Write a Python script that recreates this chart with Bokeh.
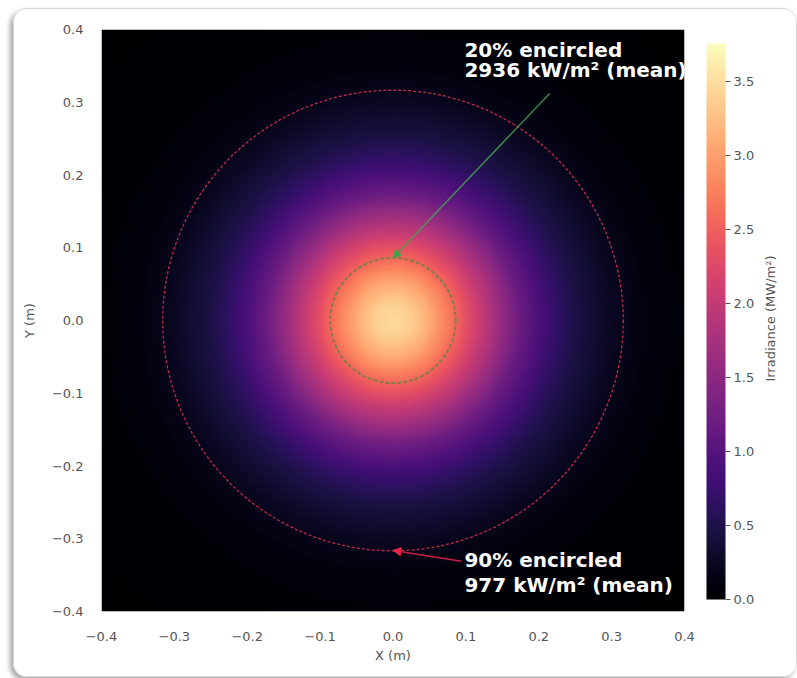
import numpy as np
from bokeh.plotting import figure
from bokeh.models import (LinearColorMapper, ColorBar, FixedTicker, LinearAxis,
                          CustomJSTickFormatter, PrintfTickFormatter, Label,
                          Arrow, NormalHead)
from bokeh.palettes import Magma256
from bokeh.embed import file_html
from bokeh.resources import INLINE

# Radial irradiance profile of the focal spot (radius in m, irradiance in MW/m²)
radius_m = [0.000, 0.025, 0.050, 0.075, 0.100, 0.125, 0.150, 0.175, 0.200,
            0.225, 0.250, 0.275, 0.300, 0.325, 0.350, 0.400, 0.450, 0.570]
irradiance_mw = [3.48, 3.38, 3.10, 2.74, 2.34, 1.96, 1.57, 1.18, 0.90,
                 0.66, 0.48, 0.36, 0.25, 0.16, 0.10, 0.05, 0.02, 0.01]

# Encircled-energy contours
encircled_pct = [20, 90]
encircled_radius_m = [0.086, 0.316]
encircled_mean_kw = [2936, 977]

irradiance_max = 3.76
colorbar_ticks = [0.0, 0.5, 1.0, 1.5, 2.0, 2.5, 3.0, 3.5]
colorbar_title = "Irradiance (MW/m²)"
axis_ticks = [-0.4, -0.3, -0.2, -0.1, 0.0, 0.1, 0.2, 0.3, 0.4]

# Irradiance map on a square grid, built from the radial profile
n = 300
centers = -0.4 + (np.arange(n) + 0.5) * 0.8 / n
gx, gy = np.meshgrid(centers, centers)
rr = np.hypot(gx, gy)
field = np.interp(rr, radius_m, irradiance_mw)

mapper = LinearColorMapper(palette=Magma256, low=0.0, high=irradiance_max)

GRAY = "#555555"
FONT = "DejaVu Sans"
minus_fmt = CustomJSTickFormatter(code="return tick.toFixed(1).replace('-', '\\u2212');")

p = figure(x_range=(-0.4, 0.4), y_range=(-0.4, 0.4),
           frame_width=583, frame_height=582,
           min_border_left=87, min_border_right=112,
           min_border_top=20, min_border_bottom=65,
           output_backend="svg", toolbar_location=None)
p.margin = (8, 0, 0, 13)
p.styles = {"border": "1px solid #d6d6d6", "border-radius": "14px",
            "box-shadow": "-3px 3px 5px rgba(0,0,0,0.35)", "overflow": "hidden"}
p.border_fill_color = "white"
p.outline_line_color = None
p.grid.visible = False

p.image(image=[field], x=-0.4, y=-0.4, dw=0.8, dh=0.8, color_mapper=mapper)

for ax in (p.xaxis, p.yaxis):
    ax.ticker = FixedTicker(ticks=axis_ticks)
    ax.formatter = minus_fmt
    ax.axis_line_color = None
    ax.major_tick_line_color = None
    ax.minor_tick_line_color = None
    ax.major_label_text_color = GRAY
    ax.major_label_text_font = FONT
    ax.major_label_text_font_size = "13px"
    ax.axis_label_text_color = GRAY
    ax.axis_label_text_font = FONT
    ax.axis_label_text_font_size = "13px"
    ax.axis_label_text_font_style = "normal"

p.xaxis.axis_label = "X (m)"
p.yaxis.axis_label = "Y (m)"
p.xaxis.major_label_standoff = 14
p.xaxis.axis_label_standoff = 4
p.yaxis.major_label_standoff = 12
p.yaxis.axis_label_standoff = 12

# Encircled-energy circles
p.circle(x=0, y=0, radius=encircled_radius_m[1], fill_color=None,
         line_color="#e03050", line_alpha=0.85, line_width=1.3, line_dash="3 2")
p.circle(x=0, y=0, radius=encircled_radius_m[0], fill_color=None,
         line_color="#3a8a40", line_alpha=0.6, line_width=2, line_dash="4 2")

# Annotations with arrows
ann = [
    dict(color="#46a050", start=(0.215, 0.312), end=(0.0, encircled_radius_m[0]),
         text_xy=(0.098, 0.372), line_gap=0.028),
    dict(color="#e8264a", start=(0.094, -0.331), end=(0.0, -encircled_radius_m[1]),
         text_xy=(0.098, -0.329), line_gap=0.034),
]
for a, pct, kw in zip(ann, encircled_pct, encircled_mean_kw):
    c = a["color"]
    p.add_layout(Arrow(end=NormalHead(size=8, fill_color=c, line_color=c),
                       x_start=a["start"][0], y_start=a["start"][1],
                       x_end=a["end"][0], y_end=a["end"][1],
                       line_color=c, line_width=1.5, line_alpha=0.85))
    tx, ty = a["text_xy"]
    for i, line in enumerate([f"{pct}% encircled", f"{kw} kW/m² (mean)"]):
        p.add_layout(Label(x=tx, y=ty - i * a["line_gap"], text=line,
                           text_color="white", text_font=FONT,
                           text_font_style="bold", text_font_size="20px",
                           text_align="left", text_baseline="alphabetic"))

cb = ColorBar(color_mapper=mapper, ticker=FixedTicker(ticks=colorbar_ticks),
              formatter=PrintfTickFormatter(format="%.1f"),
              width=19, height=556, location=(17, 7), padding=5,
              major_tick_out=5, major_tick_in=0, major_tick_line_color=GRAY,
              minor_tick_line_color=None, label_standoff=3,
              major_label_text_color=GRAY, major_label_text_font=FONT,
              major_label_text_font_size="13px",
              bar_line_color=None, border_line_color=None,
              background_fill_color=None)
p.add_layout(cb, "right")

# Colour-bar title: a single rotated tick label on an extra right-hand axis,
# anchored at its first character so the text reads upward, centred on the bar
cb_axis = LinearAxis(ticker=FixedTicker(ticks=[-0.084]),
                     formatter=CustomJSTickFormatter(args=dict(title=colorbar_title),
                                                     code="return title;"),
                     major_label_orientation=np.pi / 2, major_label_standoff=2,
                     axis_line_color=None, major_tick_line_color=None,
                     minor_tick_line_color=None,
                     major_label_text_color=GRAY, major_label_text_font=FONT,
                     major_label_text_font_size="13px")
p.add_layout(cb_axis, "right")

open("out.html", "w").write(file_html(p, INLINE))
